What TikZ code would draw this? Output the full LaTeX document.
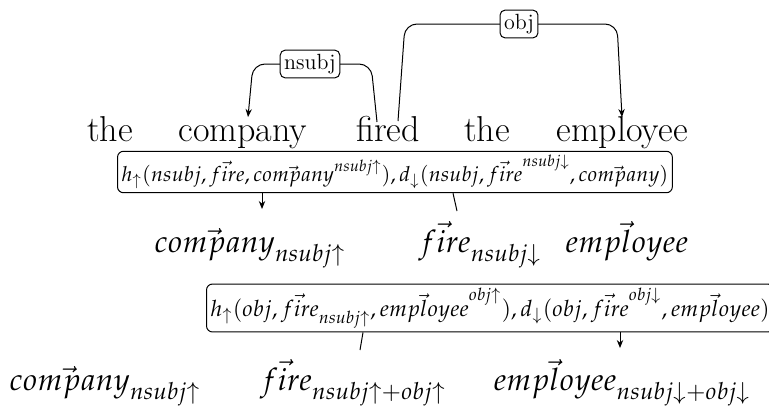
\documentclass[tikz,border=0pt]{standalone}
\usepackage{mathpazo}
\usetikzlibrary{arrows.meta}
\tikzset{
  word/.style={anchor=base, font=\fontsize{18}{21}\selectfont, inner sep=0pt},
  mword/.style={anchor=base, font=\fontsize{15.5}{18}\selectfont, inner sep=0pt},
  deplabel/.style={draw, rounded corners=2.5pt, fill=white, font=\fontsize{11}{13}\selectfont, inner sep=2pt, line width=0.5pt},
  funcbox/.style={draw, rounded corners=3pt, inner sep=2pt, anchor=west, line width=0.5pt},
  depedge/.style={line width=0.5pt, rounded corners=6pt},
  arr/.style={-{Stealth[length=4pt,width=3.2pt]}},
  conn/.style={line width=0.5pt}
}
\begin{document}
\begin{tikzpicture}[x=0.5pt,y=-0.5pt]
\useasboundingbox (0,0) rectangle (769,409);
% sentence
\node[word] (w1) at (110,141) {the};
\node[word] (w2) at (243,141) {company};
\node[word] (w3) at (388,141) {fired};
\node[word] (w4) at (487,141) {the};
\node[word] (w5) at (622,141) {employee};
% nsubj edge
\coordinate (ns0) at (377,122);
\coordinate (ns1) at (371,64);
\coordinate (ns2) at (253,64);
\coordinate (ns3) at (248,117);
\draw[depedge,arr] (ns0) -- (ns1) -- (ns2) -- (ns3);
\node[deplabel] (lns) at (310,64) {nsubj};
% obj edge
\coordinate (ob0) at (398,121);
\coordinate (ob1) at (405,24);
\coordinate (ob2) at (617,24);
\coordinate (ob3) at (622,117);
\draw[depedge,arr] (ob0) -- (ob1) -- (ob2) -- (ob3);
\node[deplabel] (lob) at (519,24) {obj};
% first function box
\node[funcbox, font=\fontsize{10.4}{12}\selectfont] (b1) at (117,172) {$h_{\uparrow}(nsubj, \vec{fire}, \vec{company}^{nsubj\uparrow}), d_{\downarrow}(nsubj, \vec{fire}^{nsubj\downarrow}, \vec{company})$};
% middle row
\node[mword] (m1) at (250,252) {$\vec{company}_{nsubj\uparrow}$};
\node[mword] (m2) at (480,252) {$\vec{fire}_{nsubj\downarrow}$};
\node[mword] (m3) at (627,252) {$\vec{employee}$};
\coordinate (a1) at (262,209);
\draw[conn,arr] (b1.south -| a1) -- (a1);
\coordinate (a2t) at (453,0);
\coordinate (a2) at (457,211);
\draw[conn] (b1.south -| a2t) -- (a2);
% second function box
\node[funcbox, font=\fontsize{11.25}{13}\selectfont] (b2) at (206,308) {$h_{\uparrow}(obj, \vec{fire}_{nsubj\uparrow}, \vec{employee}^{obj\uparrow}), d_{\downarrow}(obj, \vec{fire}^{obj\downarrow}, \vec{employee})$};
\coordinate (c1t) at (363,0);
\coordinate (c1) at (360,350);
\draw[conn] (b2.south -| c1t) -- (c1);
\coordinate (c2) at (620,348);
\draw[conn,arr] (b2.south -| c2) -- (c2);
% bottom row
\node[mword] (n1) at (105,390) {$\vec{company}_{nsubj\uparrow}$};
\node[mword] (n2) at (353,390) {$\vec{fire}_{nsubj\uparrow+obj\uparrow}$};
\node[mword] (n3) at (622,390) {$\vec{employee}_{nsubj\downarrow+obj\downarrow}$};
\end{tikzpicture}
\end{document}
